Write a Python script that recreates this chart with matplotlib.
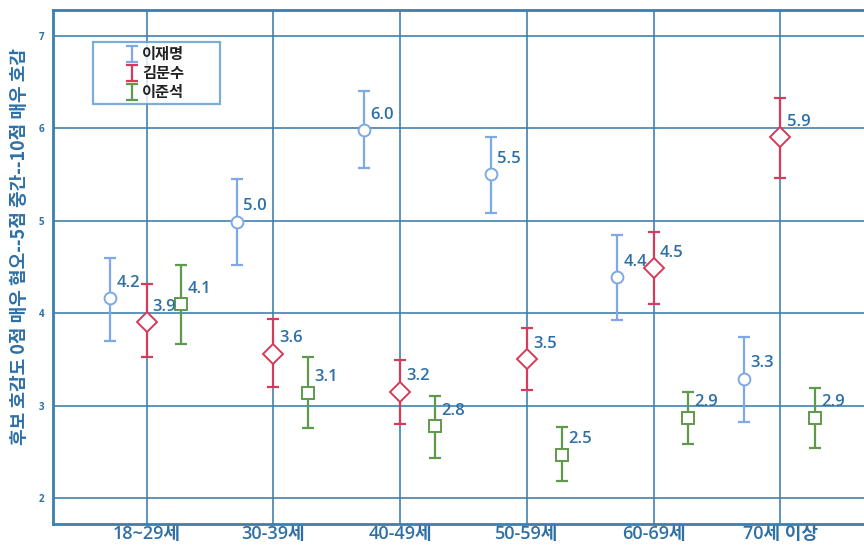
import matplotlib
matplotlib.use('Agg')
import matplotlib.pyplot as plt
import numpy as np

plt.rcParams['font.family'] = ['Noto Sans CJK KR', 'DejaVu Sans']

groups = ['18~29세', '30-39세', '40-49세', '50-59세', '60-69세', '70세 이상']
names = ['이재명', '김문수', '이준석']

# means, lower and upper ends of the bars, labels
lee_mean = [4.16, 4.99, 5.98, 5.50, 4.39, 3.29]
lee_lo = [3.70, 4.52, 5.57, 5.08, 3.93, 2.82]
lee_hi = [4.60, 5.45, 6.40, 5.91, 4.85, 3.74]
lee_lab = ['4.2', '5.0', '6.0', '5.5', '4.4', '3.3']

kim_mean = [3.90, 3.56, 3.15, 3.50, 4.49, 5.90]
kim_lo = [3.52, 3.20, 2.80, 3.17, 4.10, 5.46]
kim_hi = [4.31, 3.94, 3.49, 3.84, 4.88, 6.33]
kim_lab = ['3.9', '3.6', '3.2', '3.5', '4.5', '5.9']

jun_mean = [4.10, 3.14, 2.78, 2.47, 2.87, 2.87]
jun_lo = [3.67, 2.76, 2.43, 2.18, 2.58, 2.54]
jun_hi = [4.52, 3.52, 3.10, 2.77, 3.15, 3.19]
jun_lab = ['4.1', '3.1', '2.8', '2.5', '2.9', '2.9']

series = [
    (lee_mean, lee_lo, lee_hi, lee_lab, '#7ea9e6', 'o', -0.285, 8.5),
    (kim_mean, kim_lo, kim_hi, kim_lab, '#d83a5c', 'D', 0.0, 10.5),
    (jun_mean, jun_lo, jun_hi, jun_lab, '#5f9a4c', 's', 0.275, 8),
]

grid_c = '#3d7fae'
text_c = '#2e70a6'
num_font = ['Open Sans', 'Noto Sans CJK KR']

fig = plt.figure(figsize=(8.64, 5.52), dpi=100)
ax = fig.add_axes([0.061, 0.051, 0.939, 0.931])

x = np.arange(len(groups))
handles = []
for (m, lo, hi, lab, col, mk, off, ms), nm in zip(series, names):
    m = np.array(m)
    err = [m - np.array(lo), np.array(hi) - m]
    h = ax.errorbar(x + off, m, yerr=err, fmt='none', ecolor=col, elinewidth=1.6,
                    capsize=4, capthick=1.6, label=nm, zorder=3)
    ax.plot(x + off, m, linestyle='none', marker=mk, markersize=ms,
            markerfacecolor='white', markeredgecolor=col, markeredgewidth=1.4, zorder=4)
    handles.append(h)
    for xi, yi, t in zip(x + off, m, lab):
        ax.annotate(t, (xi, yi), xytext=(4.5, 11), textcoords='offset points',
                    color=text_c, fontsize=12, fontweight='semibold', family=num_font,
                    va='center', ha='left', zorder=5)

ax.set_xlim(-0.74, 5.66)
ax.set_ylim(1.72, 7.28)
ax.set_xticks(x)
ax.set_xticklabels(groups, fontsize=13, fontweight='semibold', color=text_c, family=num_font)
ax.set_yticks([2, 3, 4, 5, 6, 7])
ax.set_yticklabels(['2', '3', '4', '5', '6', '7'], fontsize=7, fontweight='bold',
                   color=text_c, family=num_font)
ax.tick_params(axis='both', length=0)
ax.tick_params(axis='y', pad=6)
ax.tick_params(axis='x', pad=1)
ax.grid(True, color=grid_c, linewidth=1.3, alpha=0.9, zorder=0)
ax.set_axisbelow(True)
for s in ['left', 'bottom', 'top']:
    ax.spines[s].set_color(grid_c)
    ax.spines[s].set_linewidth(2)
ax.spines['right'].set_visible(False)

ax.set_ylabel('후보 호감도 0점 매우 혐오--5점 중간--10점 매우 호감', color=text_c,
              fontsize=13, fontweight='semibold')
ax.yaxis.set_label_coords(-0.029, 0.54)

leg = ax.legend(handles=handles, loc='upper left', bbox_to_anchor=(0.0497, 0.838, 0.157, 0.1),
                mode='expand', borderaxespad=0, frameon=True, fancybox=False,
                handlelength=4.6, handletextpad=-1.65, borderpad=0.25, labelspacing=0.2,
                handleheight=0.4, prop={'weight': 'bold', 'size': 11})
leg.get_frame().set_edgecolor('#5b97cf')
leg.get_frame().set_linewidth(1.6)
for t in leg.get_texts():
    t.set_color('#222222')

fig.savefig('out.png', dpi=100)
